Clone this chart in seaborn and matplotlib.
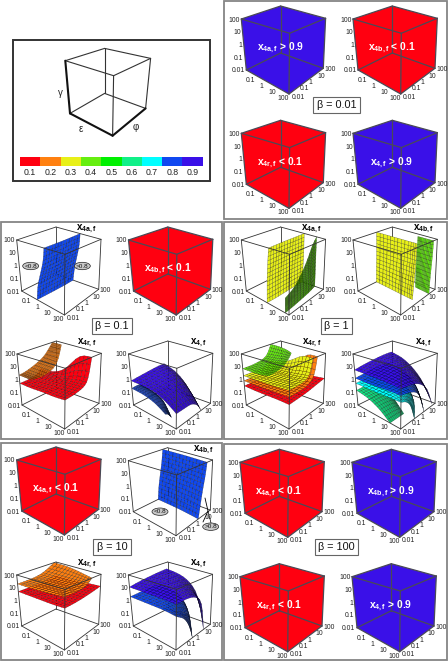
import numpy as np
import matplotlib
matplotlib.use("Agg")
import matplotlib.pyplot as plt
import seaborn as sns
from matplotlib.collections import PolyCollection
from matplotlib.colors import ListedColormap, to_rgb
from matplotlib.patches import Rectangle, Ellipse

sns.set_theme(style="white")
plt.rcParams['font.family'] = ['Liberation Sans', 'DejaVu Sans']
plt.rcParams['mathtext.fontset'] = 'custom'
plt.rcParams['mathtext.rm'] = 'Liberation Sans'
plt.rcParams['mathtext.it'] = 'Liberation Sans:italic'
plt.rcParams['mathtext.bf'] = 'Liberation Sans:bold'

# ---------- data ----------
LEVELS = ['0.1', '0.2', '0.3', '0.4', '0.5', '0.6', '0.7', '0.8', '0.9']
LEVEL_COLORS = ['#ff0010', '#ff8010', '#e8f018', '#66ee10', '#00f000', '#10f088', '#00ffff', '#1048f0', '#3a10e8']
RED, ORANGE, YELLOW, LIME, MINT, CYAN, BLUE, PURPLE = (LEVEL_COLORS[0], LEVEL_COLORS[1], LEVEL_COLORS[2],
    LEVEL_COLORS[3], LEVEL_COLORS[5], LEVEL_COLORS[6], LEVEL_COLORS[7], LEVEL_COLORS[8])
GAMMA_TICKS = ['0.01', '0.1', '1', '10', '100']
EPS_TICKS = ['0.1', '1', '10', '100']
PHI_TICKS = ['0.01', '0.1', '1', '10', '100']
D = [-2, -1, 0, 1, 2]

# beta = 0.1
W01A_PHI = D
W01A_G = D
W01A_E = [[-0.55, -0.5, -0.45, -0.4, -0.4], [-0.45, -0.4, -0.35, -0.3, -0.3], [-0.15, -0.1, -0.05, -0.1, -0.1],
          [0.15, 0.15, 0.15, 0.1, 0.1], [0.25, 0.25, 0.25, 0.2, 0.15]]
S01R_RED_E = D
S01R_RED_PHI = [[-2, -1, -0.2, 0.1, 0.3], [-2, -1, -0.2, 0.1, 0.35], [-2, -1, -0.1, 0.3, 0.5],
                [-2, -1, 0, 0.6, 0.85], [-2, -1, 0, 0.6, 0.95]]
S01R_RED_G = [[-0.3, -0.3, -0.2, 0, 0.2], [-0.3, -0.3, -0.2, 0, 0.2], [-0.2, -0.2, -0.1, 0.1, 0.6],
              [-0.2, -0.2, -0.05, 0.2, 2], [-0.1, -0.1, 0, 0.3, 2]]
S01R_ORA_PHI = [-2, -1.3, -0.15, 0.8, 1.6]
S01R_ORA_E = [[-2, -1.5, -1], [-2, -1.3, -0.65], [-2, -1.2, -0.5], [-2, -1.4, -0.8], [-2, -1.6, -1.2]]
S01R_ORA_G = [[0.35, 0.35, 0.35], [0.4, 0.4, 0.4], [0.7, 0.7, 0.7], [1.1, 1.1, 1.1], [2, 2, 2]]
S01F_PUR_E = D
S01F_PUR_PHI = [[-2, -1, 0, 1, 1.6], [-2, -1, 0, 1, 1.6], [-2, -1, 0, 1, 1.5], [-2, -1, 0, 0.9, 1.3], [-2, -1, -0.2, 0.5, 0.9]]
S01F_PUR_G = [[-0.1, 0, 0.1, 0.2, 0.2], [-0.1, -0.1, 0, 0.1, -0.1], [-0.15, -0.15, -0.1, -0.2, -0.7],
              [-0.5, -0.5, -0.4, -0.8, -1.6], [-1.0, -1.0, -1.0, -1.4, -2]]
S01F_BLU_E = [-2, -1, 0, 1]
S01F_BLU_PHI = [[-2, -1.6, -1.2, -1], [-2, -1.6, -1.2, -1], [-2, -1.6, -1.2, -1], [-2, -1.7, -1.5, -1.3]]
S01F_BLU_G = [[-0.7, -0.65, -0.65, -0.7], [-0.75, -0.7, -0.75, -0.8], [-0.95, -0.95, -1, -1.1], [-1.4, -1.5, -1.7, -1.9]]

# beta = 1
W1A_Y_E = [[-0.05, 0, 0, 0, 0.05], [0, 0, 0, 0.05, 0.05], [0.05, 0.05, 0.05, 0.05, 0.1], [0.15, 0.15, 0.1, 0.1, 0.1], [0.25, 0.2, 0.15, 0.15, 0.1]]
W1A_G_PHI = [-2, -1, 0, 1, 1.5, 2]
W1A_G_G = [[-2, -1.6, -1.3, -1], [-2, -1.5, -1.2, -0.8], [-2, -1.4, -0.9, -0.4], [-2, -1, -0.2, 0.6], [-2, -0.7, 0.4, 1.4], [-2, -0.5, 0.8, 2]]
W1A_G_E = [[1.65, 1.65, 1.65, 1.65], [1.6, 1.6, 1.6, 1.6], [1.5, 1.5, 1.45, 1.4], [1.4, 1.4, 1.35, 1.3], [1.3, 1.3, 1.25, 1.2], [1.2, 1.2, 1.2, 1.2]]
W1B_Y_E = [-2, -1, 0, 1, 1.5]
W1B_Y_PHI = [[0.15, 0.2, 0.3, 0.35, 0.4], [0.1, 0.2, 0.3, 0.35, 0.4], [0.05, 0.15, 0.25, 0.35, 0.4], [0, 0.1, 0.25, 0.35, 0.4], [0, 0.1, 0.25, 0.35, 0.4]]
W1B_G_E = [0.6, 1, 1.5, 2]
W1B_G_PHI = [[1.45, 1.45, 1.5, 1.55, 1.6], [1.4, 1.45, 1.5, 1.55, 1.6], [1.35, 1.4, 1.45, 1.55, 1.6], [1.3, 1.35, 1.45, 1.55, 1.6]]
S1R_RED_G = [[-0.5, -0.5, -0.45, -0.4, -0.3], [-0.5, -0.45, -0.45, -0.35, -0.3], [-0.45, -0.45, -0.4, -0.3, -0.2], [-0.4, -0.4, -0.35, -0.2, -0.1], [-0.4, -0.35, -0.3, -0.15, 0]]
S1R_ORA_PHI = [[-2, -1, 0, 0.7, 1.2], [-2, -1, 0, 0.7, 1.2], [-2, -1, 0, 0.8, 1.2], [-2, -1, 0, 0.8, 1.15], [-2, -1, 0, 0.8, 1.1]]
S1R_ORA_G = [[-0.1, -0.1, -0.05, 0.05, 0.4], [-0.05, -0.05, 0, 0.1, 0.5], [0, 0, 0.05, 0.2, 0.8], [0.05, 0.05, 0.1, 0.3, 2], [0.1, 0.1, 0.15, 0.5, 2]]
S1R_YEL_PHI = [[-2, -1, 0, 0.4, 0.8], [-2, -1, 0, 0.4, 0.8], [-2, -1, -0.2, 0.3, 0.7], [-2, -1, -0.2, 0.3, 0.7], [-2, -1, -0.2, 0.3, 0.6]]
S1R_YEL_G = [[0.3, 0.3, 0.3, 0.4, 0.7], [0.35, 0.35, 0.35, 0.5, 0.9], [0.4, 0.4, 0.45, 0.6, 1.3], [0.45, 0.45, 0.5, 0.75, 2], [0.55, 0.55, 0.6, 0.9, 2]]
S1R_LIM_E = [-2, -1.2, -0.4, 0.2]
S1R_LIM_PHI = [[-2, -1, 0, 0.6, 1.0], [-2, -1, 0, 0.6, 1.0], [-2, -1, 0, 0.5, 0.8], [-2, -1, -0.2, 0.3, 0.5]]
S1R_LIM_G = [[0.85, 0.85, 0.95, 1.2, 2], [0.85, 0.9, 1.0, 1.3, 2], [0.9, 0.95, 1.1, 1.5, 2], [1.0, 1.05, 1.3, 1.7, 2]]
S1F_PUR_PHI = [[-2, -1, 0, 1, 1.9], [-2, -1, 0, 1, 1.9], [-2, -1, 0, 1, 1.9], [-2, -1, 0, 1, 1.8], [-2, -1, 0, 1, 1.65]]
S1F_PUR_G = [[0.75, 0.9, 1.0, 1.1, 1.1], [0.75, 0.9, 1.0, 1.1, 0.9], [0.75, 0.85, 1.0, 0.9, 0.3], [0.7, 0.8, 0.8, 0.4, -0.5], [0.65, 0.6, 0.4, -0.3, -1.9]]
S1F_BLU_PHI = [[-2, -1, 0, 1, 1.5], [-2, -1, 0, 1, 1.5], [-2, -1, 0, 1, 1.5], [-2, -1, 0, 0.9, 1.3], [-2, -1, -0.1, 0.4, 0.7]]
S1F_BLU_G = [[0.1, 0.2, 0.3, 0.3, 0.3], [0.1, 0.2, 0.3, 0.3, 0.2], [0.15, 0.2, 0.3, 0.2, -0.2], [0.2, 0.25, 0.2, -0.2, -1.0], [0.2, 0.1, -0.2, -1, -2]]
S1F_CYA_PHI = [[-2, -1, 0, 0.9, 1.2], [-2, -1, 0, 0.9, 1.2], [-2, -1, 0, 0.8, 1.1], [-2, -1, -0.2, 0.6, 0.9], [-2, -1.4, -0.9, -0.6, -0.4]]
S1F_CYA_G = [[-0.3, -0.25, -0.2, -0.2, -0.25], [-0.3, -0.25, -0.2, -0.25, -0.4], [-0.3, -0.25, -0.25, -0.4, -0.9], [-0.25, -0.25, -0.4, -0.9, -1.6], [-0.25, -0.4, -0.8, -1.5, -2]]
S1F_MIN_E = [-2, -1, 0, 1]
S1F_MIN_PHI = [[-2, -1.2, -0.4, 0, 0.3], [-2, -1.2, -0.4, 0, 0.3], [-2, -1.2, -0.5, -0.2, 0], [-2, -1.4, -0.9, -0.6, -0.4]]
S1F_MIN_G = [[-0.85, -0.8, -0.8, -0.85, -0.9], [-1.0, -0.95, -1.0, -1.1, -1.2], [-1.4, -1.4, -1.5, -1.6, -1.7], [-2, -2, -2, -2, -2]]

# beta = 10
W10B_E = D
W10B_PHI = [[0.9, 1.0, 1.2, 1.4, 1.5], [0.85, 1.0, 1.2, 1.4, 1.5], [0.8, 0.95, 1.15, 1.35, 1.5], [0.7, 0.9, 1.1, 1.3, 1.45], [0.6, 0.8, 1.0, 1.25, 1.4]]
S10R_RED_G = [[0.7, 0.7, 0.7, 0.75, 0.9], [0.7, 0.7, 0.7, 0.75, 0.9], [0.7, 0.7, 0.7, 0.8, 0.9], [0.7, 0.7, 0.75, 0.85, 1], [0.75, 0.75, 0.8, 0.9, 1.05]]
S10R_ORA_PHI = [[-2, -1, 0, 0.8, 1.8], [-2, -1, 0, 0.8, 1.8], [-2, -1, 0, 0.8, 1.6], [-2, -1, 0, 0.7, 1.3], [-2, -1, 0, 0.6, 1.0]]
S10R_ORA_G = [[1.3, 1.3, 1.35, 1.5, 2], [1.3, 1.35, 1.35, 1.5, 2], [1.35, 1.35, 1.4, 1.5, 2], [1.4, 1.4, 1.45, 1.6, 2], [1.5, 1.5, 1.5, 1.7, 2]]
S10F_PUR_PHI = [[-2, -1, 0, 1, 1.9], [-2, -1, 0, 1, 1.9], [-2, -1, 0, 1, 1.8], [-2, -1, 0, 1, 1.7], [-2, -1, 0, 0.9, 1.2]]
S10F_PUR_G = [[1.05, 1.2, 1.3, 1.4, 1.45], [1.05, 1.2, 1.3, 1.35, 1.35], [1.05, 1.2, 1.3, 1.25, 1.1], [1.05, 1.15, 1.2, 1.0, 0.3], [1.0, 1.05, 0.95, 0.4, -2]]
S10F_BLU_PHI = [[-2, -1, 0, 0.8, 1.3], [-2, -1, 0, 0.8, 1.3], [-2, -1, -0.1, 0.7, 1.2], [-2, -1, -0.2, 0.5, 0.8], [-2, -1.1, -0.6, -0.3, -0.1]]
S10F_BLU_G = [[0.3, 0.35, 0.4, 0.4, 0.3], [0.3, 0.35, 0.35, 0.35, 0.2], [0.3, 0.3, 0.3, 0.2, -0.1], [0.3, 0.2, 0.1, -0.2, -0.9], [0.2, -0.2, -0.8, -1.4, -2]]

# ---------- layout ----------
W, H = 448, 664
fig = plt.figure(figsize=(W / 100, H / 100), dpi=100)
ax = fig.add_axes([0, 0, 1, 1])
ax.set_xlim(0, W); ax.set_ylim(H, 0); ax.axis('off')

TOPC = np.array([[0, 0], [48.3, 14.3], [84.3, -0.7], [39.3, -13]], float)
BOTC = np.array([[5, 51], [47.7, 75], [82, 49.3], [39.3, 34]], float)


def proj(org, e, p, g, top=TOPC, bot=BOTC):
    e = (np.asarray(e, float) + 2) / 4; p = (np.asarray(p, float) + 2) / 4; g = (np.asarray(g, float) + 2) / 4
    out = []
    for k in range(2):
        t = (1 - e) * (1 - p) * top[0, k] + e * (1 - p) * top[1, k] + e * p * top[2, k] + (1 - e) * p * top[3, k]
        b = (1 - e) * (1 - p) * bot[0, k] + e * (1 - p) * bot[1, k] + e * p * bot[2, k] + (1 - e) * p * bot[3, k]
        out.append(org[k] + g * t + (1 - g) * b)
    return out[0], out[1]


def refine(m, n=13):
    m = np.asarray(m, float)
    a = np.linspace(0, m.shape[0] - 1, n + 1); b = np.linspace(0, m.shape[1] - 1, n + 1)
    tmp = np.array([np.interp(b, np.arange(m.shape[1]), r) for r in m])
    out = np.array([np.interp(a, np.arange(m.shape[0]), c) for c in tmp.T]).T
    for _ in range(2):
        s = out.copy()
        s[1:-1, :] = 0.25 * out[:-2, :] + 0.5 * out[1:-1, :] + 0.25 * out[2:, :]
        o2 = s.copy()
        o2[:, 1:-1] = 0.25 * s[:, :-2] + 0.5 * s[:, 1:-1] + 0.25 * s[:, 2:]
        out = o2
    return out


def sheet(e, phi, g, color, shade=True):
    return (refine(e), refine(phi), refine(g), to_rgb(color), shade)


def sh(e_nodes, phi, g, color, shade=True):
    phi, g = np.asarray(phi, float), np.asarray(g, float)
    return sheet(np.repeat(np.asarray(e_nodes, float)[:, None], phi.shape[1], 1), phi, g, color, shade)


def wall_e(e, phi_nodes, g_nodes, color, shade=False):
    e = np.asarray(e, float)
    ph = np.repeat(np.asarray(phi_nodes, float)[None, :], e.shape[0], 0)
    gg = np.repeat(np.asarray(g_nodes, float)[:, None], e.shape[1], 1)
    return sheet(e, ph, gg, color, shade)


def wall_phi(e_nodes, phi, g_nodes, color, shade=False):
    phi = np.asarray(phi, float)
    ee = np.repeat(np.asarray(e_nodes, float)[:, None], phi.shape[1], 1)
    gg = np.repeat(np.asarray(g_nodes, float)[None, :], phi.shape[0], 0)
    return sheet(ee, phi, gg, color, shade)


def quads(org, surfaces):
    polys, cols, depth = [], [], []
    for E, P, G, c, shade in surfaces:
        X, Y = proj(org, E, P, G)
        for i in range(E.shape[0] - 1):
            for j in range(E.shape[1] - 1):
                polys.append([(X[i, j], Y[i, j]), (X[i + 1, j], Y[i + 1, j]), (X[i + 1, j + 1], Y[i + 1, j + 1]), (X[i, j + 1], Y[i, j + 1])])
                pts = np.array([[E[i, j], P[i, j], G[i, j]], [E[i + 1, j], P[i + 1, j], G[i + 1, j]],
                                [E[i + 1, j + 1], P[i + 1, j + 1], G[i + 1, j + 1]], [E[i, j + 1], P[i, j + 1], G[i, j + 1]]])
                n = np.cross(pts[2] - pts[0], pts[3] - pts[1])
                n = n / (np.linalg.norm(n) + 1e-9)
                if n[2] < 0:
                    n = -n
                b = 1.0
                if shade:
                    b = max(1 - 0.5 * max(0.0, (n[0] + n[1]) / np.sqrt(2)), 0.5)
                cols.append(tuple(np.array(c) * b))
                m = pts.mean(0)
                depth.append(m[0] - m[1] + 0.5 * m[2])
    order = np.argsort(depth)
    return [polys[i] for i in order], [cols[i] for i in order]


FRONT = [((-2, -2, 2), (2, -2, 2)), ((2, -2, 2), (2, 2, 2)), ((2, 2, 2), (-2, 2, 2)), ((-2, 2, 2), (-2, -2, 2)),
         ((-2, -2, -2), (-2, -2, 2)), ((2, -2, -2), (2, -2, 2)), ((2, 2, -2), (2, 2, 2)),
         ((-2, -2, -2), (2, -2, -2)), ((2, -2, -2), (2, 2, -2))]
BACK = [((-2, 2, -2), (-2, 2, 2)), ((-2, 2, -2), (-2, -2, -2)), ((-2, 2, -2), (2, 2, -2))]


def edges(org, segs, color, lw, z, top=TOPC, bot=BOTC):
    for a, b in segs:
        x, y = proj(org, [a[0], b[0]], [a[1], b[1]], [a[2], b[2]], top, bot)
        ax.plot(x, y, color=color, lw=lw, zorder=z, solid_capstyle='round')


def ticks(org, z=6, col='#222222'):
    fs = 4.9
    for lab, g in zip(GAMMA_TICKS, D):
        x, y = proj(org, -2, -2, g)
        ax.text(x - 1.5, y + 1, lab, ha='right', va='center', fontsize=fs, color=col, zorder=z)
    for lab, e in zip(EPS_TICKS, D[1:]):
        x, y = proj(org, e, -2, -2)
        ax.text(x - 6, y + 4.6, lab, ha='center', va='center', fontsize=fs, color=col, zorder=z)
    for lab, p in zip(PHI_TICKS, D):
        x, y = proj(org, 2, p, -2)
        ax.text(x + (1.2 if p == 2 else 2.4), y + (3.2 if p == -2 else 1.4), lab, ha='left', va='center', fontsize=fs, color=col, zorder=z)


def solid(org, color, label):
    x, y = proj(org, [-2, -2, -2, 2, 2, 2], [2, -2, -2, -2, 2, 2], [2, 2, -2, -2, -2, 2])
    ax.fill(x, y, color=color, lw=0, zorder=2)
    edges(org, FRONT + BACK, '#4a4a55', 0.9, 3)
    ticks(org)
    ax.text(org[0] + 39, org[1] + 29, label, ha='center', va='center', fontsize=7.4, color='white',
            fontweight='bold', zorder=5)


def surfaced(org, surfaces, title, tdx=70):
    edges(org, BACK, '#333333', 0.6, 2)
    polys, cols = quads(org, surfaces)
    pc = PolyCollection(polys, facecolors=cols, edgecolors=[(0, 0, 0, 0.55)], linewidths=0.25, zorder=3)
    ax.add_collection(pc)
    edges(org, FRONT, '#333333', 0.6, 4)
    ticks(org)
    ax.text(org[0] + tdx, org[1] - 11.5, title, ha='center', va='center', fontsize=7, color='black', zorder=5)


def t(s):
    return r'$\mathbf{x}_{\mathbf{%s}}$' % s


def panel(x0, y0, x1, y1, label, lx, ly):
    ax.add_patch(Rectangle((x0, y0), x1 - x0, y1 - y0, fill=False, ec='#858585', lw=1.3, zorder=1))
    ax.text(lx, ly, label, ha='center', va='center', fontsize=7.8, color='#111111', zorder=6,
            bbox=dict(boxstyle='square,pad=0.32', fc='white', ec='#666666', lw=0.8))


def oval(x, y, s):
    ax.add_patch(Ellipse((x, y), 16, 7.4, fc='#c8c8c8', ec='#222222', lw=0.5, zorder=6))
    ax.text(x, y, s, ha='center', va='center', fontsize=4.6, color='#111111', zorder=7)


# legend box
ax.add_patch(Rectangle((12.7, 40), 197.3, 140.7, fill=False, ec='#333333', lw=1.4, zorder=1))
SO = (65.3, 60.7)
ST = np.array([[0, 0], [48.3, 15], [85.3, -2.3], [39.3, -12.3]], float)
SB = np.array([[4.7, 52.7], [47.3, 75], [80.3, 47.7], [39.3, 32.7]], float)
edges(SO, FRONT[:4] + FRONT[5:7] + BACK, '#333333', 0.8, 2, ST, SB)
edges(SO, [FRONT[4], FRONT[7], FRONT[8]], '#111111', 1.5, 3, ST, SB)
ax.text(60.5, 92.5, 'γ', ha='center', va='center', fontsize=7, color='#222222')
ax.text(81, 129, 'ε', ha='center', va='center', fontsize=7, color='#222222')
ax.text(136, 127, 'φ', ha='center', va='center', fontsize=7, color='#222222')
cax = fig.add_axes([20 / W, 1 - 165.8 / H, 182.7 / W, 8.5 / H])
sns.heatmap(np.arange(len(LEVELS))[None, :], ax=cax, cmap=ListedColormap(sns.color_palette(LEVEL_COLORS)), cbar=False,
            xticklabels=LEVELS, yticklabels=False, vmin=-0.5, vmax=8.5)
cax.tick_params(axis='x', length=0, pad=1.4, labelsize=6.3, labelcolor='#222222', rotation=0)

# beta = 0.01
panel(224, 1, 447, 219, 'β = 0.01', 336.5, 105)
solid((241.3, 19), PURPLE, t('4a,f') + ' > 0.9')
solid((353, 19), RED, t('4b,f') + ' < 0.1')
solid((241.3, 133.3), RED, t('4r,f') + ' < 0.1')
solid((353, 133.3), PURPLE, t('4,f') + ' > 0.9')

# beta = 0.1
panel(1.3, 222, 222, 438.5, 'β = 0.1', 112, 326)
surfaced((16.7, 240), [wall_e(W01A_E, W01A_PHI, W01A_G, BLUE)], t('4a,f'))
oval(30.7, 266, '<0.8'); oval(82.3, 266, '>0.8')
solid((128.5, 240), RED, t('4b,f') + ' < 0.1')
surfaced((17, 354), [sh(S01R_RED_E, S01R_RED_PHI, S01R_RED_G, RED),
                     sheet(S01R_ORA_E, np.repeat(np.array(S01R_ORA_PHI, float)[:, None], 3, 1), S01R_ORA_G, ORANGE, False)], t('4r,f'))
surfaced((128.5, 354), [sh(S01F_PUR_E, S01F_PUR_PHI, S01F_PUR_G, PURPLE), sh(S01F_BLU_E, S01F_BLU_PHI, S01F_BLU_G, BLUE)], t('4,f'), 70)

# beta = 1
panel(224, 222, 447, 438.5, 'β = 1', 336.5, 326)
surfaced((241.3, 240), [wall_e(W1A_Y_E, D, D, YELLOW), sheet(W1A_G_E, np.repeat(np.array(W1A_G_PHI, float)[:, None], 4, 1), W1A_G_G, LIME)], t('4a,f'))
surfaced((353, 240), [wall_phi(W1B_Y_E, W1B_Y_PHI, D, YELLOW), wall_phi(W1B_G_E, W1B_G_PHI, D, LIME)], t('4b,f'))
surfaced((241.3, 354), [sh(D, [D] * 5, S1R_RED_G, RED), sh(D, S1R_ORA_PHI, S1R_ORA_G, ORANGE), sh(D, S1R_YEL_PHI, S1R_YEL_G, YELLOW),
                        sh(S1R_LIM_E, S1R_LIM_PHI, S1R_LIM_G, LIME)], t('4r,f'))
surfaced((353, 354), [sh(D, S1F_PUR_PHI, S1F_PUR_G, PURPLE), sh(D, S1F_BLU_PHI, S1F_BLU_G, BLUE), sh(D, S1F_CYA_PHI, S1F_CYA_G, CYAN),
                      sh(S1F_MIN_E, S1F_MIN_PHI, S1F_MIN_G, MINT)], t('4,f'))

# beta = 10
panel(1.3, 442.5, 222, 660, 'β = 10', 112, 547)
solid((16.7, 460), RED, t('4a,f') + ' < 0.1')
surfaced((128.3, 460.7), [wall_phi(W10B_E, W10B_PHI, D, BLUE)], t('4b,f'), 75)
oval(160, 511.7, '<0.8'); oval(210.7, 526.7, '>0.8')
ax.plot([205, 208, 203], [498, 511, 522], color='black', lw=0.6, zorder=6)
ax.plot([208, 211], [511, 523], color='black', lw=0.5, zorder=6)
surfaced((16.7, 575), [sh(D, [D] * 5, S10R_RED_G, RED, False), sh(D, S10R_ORA_PHI, S10R_ORA_G, ORANGE, False)], t('4r,f'))
surfaced((128.3, 575), [sh(D, S10F_PUR_PHI, S10F_PUR_G, PURPLE), sh(D, S10F_BLU_PHI, S10F_BLU_G, BLUE)], t('4,f'))

# beta = 100
panel(224, 444, 447, 660, 'β = 100', 336.5, 547)
solid((240, 462.3), RED, t('4a,f') + ' < 0.1')
solid((352, 462.3), PURPLE, t('4b,f') + ' > 0.9')
solid((240, 576.7), RED, t('4r,f') + ' < 0.1')
solid((352, 576.7), PURPLE, t('4,f') + ' > 0.9')

fig.savefig('out.png', dpi=100)
